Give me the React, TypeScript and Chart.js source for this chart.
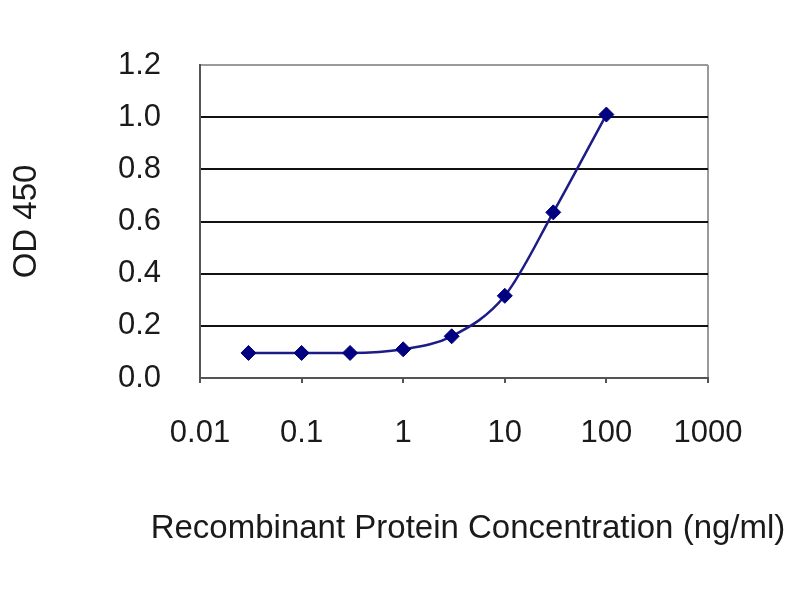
import React, { useEffect, useRef } from "react";
import { Chart, registerables } from "chart.js";

Chart.register(...registerables);

const concentrations = [0.03, 0.1, 0.3, 1, 3, 10, 30, 100];
const odValues = [0.096, 0.096, 0.096, 0.11, 0.16, 0.315, 0.635, 1.01];
const xTicks = [0.01, 0.1, 1, 10, 100, 1000];
const xTickLabels = ["0.01", "0.1", "1", "10", "100", "1000"];
const xTitle = "Recombinant Protein Concentration (ng/ml)";
const yTitle = "OD 450";

const FONT = "'Liberation Sans', Arial, sans-serif";
const TEXT = "#1a1a1a";

export default function App() {
  const ref = useRef<HTMLCanvasElement>(null);
  useEffect(() => {
    if (!ref.current) return;
    const xTitlePlugin = {
      id: "xTitlePlugin",
      afterDraw(chart: any) {
        const ctx = chart.ctx;
        const area = chart.chartArea;
        ctx.save();
        ctx.font = `33px ${FONT}`;
        ctx.fillStyle = TEXT;
        ctx.textAlign = "center";
        ctx.textBaseline = "middle";
        ctx.fillText(xTitle, (area.left + area.right) / 2 + 14, area.bottom + 151);
        ctx.restore();
      },
    };
    const chart = new Chart(ref.current, {
      type: "line",
      data: {
        datasets: [
          {
            data: concentrations.map((c, i) => ({ x: c, y: odValues[i] })),
            borderColor: "#1c1c88",
            borderWidth: 2.5,
            backgroundColor: "#000080",
            pointBackgroundColor: "#000080",
            pointBorderColor: "#000080",
            pointStyle: "rectRot",
            pointRadius: 7.5,
            pointBorderWidth: 1,
            cubicInterpolationMode: "monotone",
            fill: false,
          },
        ],
      },
      options: {
        animation: false,
        responsive: false,
        devicePixelRatio: 1,
        layout: { padding: { left: 0, top: 65, right: 92, bottom: 0 } },
        plugins: { legend: { display: false }, tooltip: { enabled: false } },
        scales: {
          x: {
            type: "logarithmic",
            min: 0.01,
            max: 1000,
            afterBuildTicks: (scale: any) => {
              scale.ticks = xTicks.map((v) => ({ value: v }));
            },
            afterFit: (scale: any) => {
              scale.height = 222;
            },
            ticks: {
              autoSkip: false,
              maxRotation: 0,
              padding: 32,
              color: TEXT,
              font: { family: FONT, size: 31 },
              callback: (value: any) => {
                const idx = xTicks.indexOf(Number(value));
                return idx >= 0 ? xTickLabels[idx] : "";
              },
            },
            grid: {
              drawOnChartArea: true,
              drawTicks: true,
              tickLength: 5,
              lineWidth: 2,
              color: (ctx: any) => (ctx.tick && ctx.tick.value === 1000 ? "#9a9a9a" : "rgba(0,0,0,0)"),
              tickColor: "#555555",
            },
            border: { display: true, color: "#555555", width: 2 },
          },
          y: {
            min: 0,
            max: 1.2,
            afterFit: (scale: any) => {
              scale.width = 200;
            },
            ticks: {
              stepSize: 0.2,
              padding: 39,
              color: TEXT,
              font: { family: FONT, size: 31 },
              callback: (value: any) => Number(value).toFixed(1),
            },
            grid: {
              drawTicks: false,
              lineWidth: 2,
              color: (ctx: any) => {
                const v = ctx.tick ? Math.round(ctx.tick.value * 10) / 10 : 0;
                return v >= 1.2 ? "#9a9a9a" : "#111111";
              },
            },
            border: { display: true, color: "#555555", width: 2 },
            title: {
              display: true,
              text: yTitle,
              color: TEXT,
              font: { family: FONT, size: 33 },
              padding: { top: 7, bottom: 0 },
            },
          },
        },
      },
      plugins: [xTitlePlugin],
    } as any);
    return () => chart.destroy();
  }, []);
  return (
    <div style={{ position: "fixed", left: 0, top: 0, width: 800, height: 600, background: "#fff" }}>
      <canvas ref={ref} width={800} height={600} style={{ display: "block" }} />
    </div>
  );
}
